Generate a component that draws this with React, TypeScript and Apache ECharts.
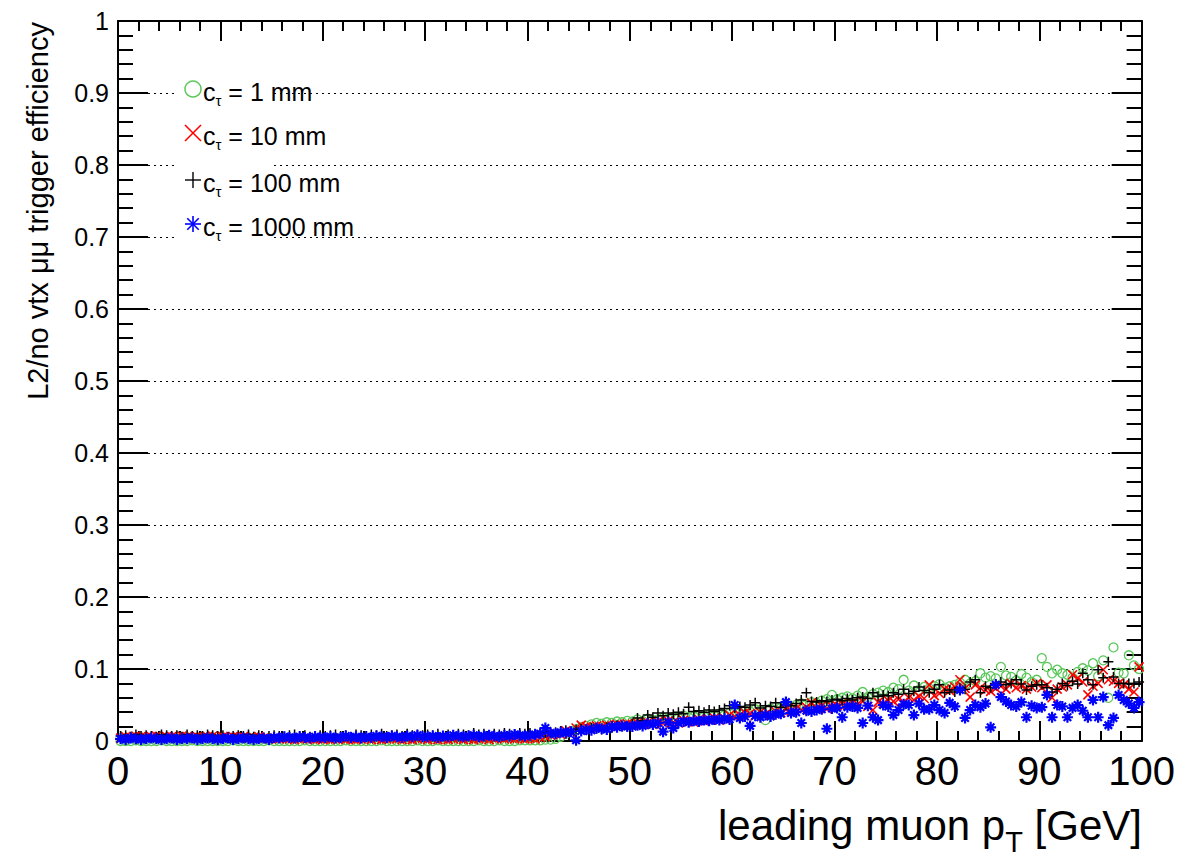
import React, { useEffect, useRef } from "react";
import * as echarts from "echarts";

// ---- data (efficiency per 0.5 GeV bin of leading muon pT, 0-100 GeV) ----
const binWidth = 0.5;

const ctau1mm = [
  0, 0, 0, 0.001, 0, 0, 0, 0, 0.001, 0, 0, 0, 0, 0, 0.001, 0, 0, 0, 0, 0,
  0, 0, 0.001, 0, 0, 0, 0, 0, 0, 0.001, 0, 0, 0, 0, 0, 0, 0.001, 0, 0, 0,
  0, 0, 0, 0, 0.001, 0, 0, 0, 0, 0, 0, 0.001, 0, 0, 0, 0, 0, 0, 0.001, 0,
  0, 0, 0.001, 0, 0, 0, 0, 0, 0, 0, 0.001, 0, 0, 0, 0.001, 0, 0, 0, 0.001, 0.001,
  0.001, 0.001, 0.001, 0.002, 0.002, 0.003, 0.006, 0.01, 0.013, 0.016, 0.019, 0.021, 0.023, 0.025, 0.024, 0.026, 0.025, 0.027, 0.026, 0.028,
  0.027, 0.03, 0.028, 0.031, 0.029, 0.03, 0.032, 0.031, 0.033, 0.032, 0.035, 0.033, 0.034, 0.036, 0.034, 0.037, 0.035, 0.038, 0.036, 0.039,
  0.04, 0.039, 0.042, 0.041, 0.044, 0.043, 0.029, 0.045, 0.047, 0.046, 0.049, 0.048, 0.05, 0.052, 0.051, 0.054, 0.053, 0.056, 0.058, 0.064,
  0.058, 0.06, 0.062, 0.059, 0.063, 0.068, 0.061, 0.065, 0.067, 0.07, 0.068, 0.074, 0.072, 0.085, 0.07, 0.077, 0.071, 0.075, 0.073, 0.076,
  0.079, 0.074, 0.076, 0.078, 0.081, 0.085, 0.08, 0.083, 0.094, 0.088, 0.09, 0.087, 0.103, 0.091, 0.089, 0.084, 0.093, 0.088, 0.082, 0.085,
  0.115, 0.103, 0.094, 0.099, 0.094, 0.092, 0.088, 0.096, 0.101, 0.098, 0.108, 0.09, 0.112, 0.06, 0.13, 0.095, 0.094, 0.119, 0.105, 0.1,
];

const ctau10mm = [
  0.004, 0.006, 0.005, 0.007, 0.006, 0.005, 0.006, 0.007, 0.005, 0.006, 0.006, 0.005, 0.007, 0.006, 0.005, 0.006, 0.005, 0.006, 0.007, 0.005,
  0.006, 0.005, 0.006, 0.005, 0.006, 0.004, 0.005, 0.006, 0.004, 0.003, 0.004, 0.003, 0.004, 0.003, 0.002, 0.003, 0.004, 0.003, 0.002, 0.003,
  0.003, 0.002, 0.003, 0.004, 0.002, 0.003, 0.002, 0.003, 0.004, 0.002, 0.003, 0.002, 0.003, 0.004, 0.003, 0.002, 0.003, 0.002, 0.003, 0.004,
  0.002, 0.003, 0.002, 0.003, 0.002, 0.003, 0.004, 0.002, 0.003, 0.002, 0.003, 0.004, 0.002, 0.003, 0.005, 0.003, 0.004, 0.003, 0.004, 0.003,
  0.004, 0.003, 0.005, 0.006, 0.008, 0.01, 0.009, 0.014, 0.012, 0.018, 0.022, 0.02, 0.019, 0.021, 0.02, 0.022, 0.021, 0.023, 0.022, 0.024,
  0.023, 0.025, 0.024, 0.026, 0.023, 0.027, 0.025, 0.028, 0.026, 0.025, 0.029, 0.027, 0.026, 0.03, 0.028, 0.03, 0.032, 0.029, 0.031, 0.036,
  0.034, 0.036, 0.039, 0.038, 0.035, 0.04, 0.037, 0.036, 0.041, 0.039, 0.044, 0.042, 0.045, 0.043, 0.047, 0.053, 0.046, 0.049, 0.045, 0.048,
  0.049, 0.052, 0.05, 0.053, 0.051, 0.055, 0.048, 0.043, 0.054, 0.052, 0.056, 0.055, 0.058, 0.054, 0.06, 0.057, 0.062, 0.059, 0.078, 0.063,
  0.066, 0.072, 0.07, 0.075, 0.085, 0.073, 0.061, 0.078, 0.074, 0.071, 0.069, 0.073, 0.076, 0.072, 0.08, 0.074, 0.077, 0.072, 0.075, 0.08,
  0.074, 0.078, 0.06, 0.072, 0.075, 0.078, 0.092, 0.087, 0.082, 0.064, 0.076, 0.08, 0.099, 0.085, 0.083, 0.08, 0.078, 0.072, 0.068, 0.103,
];

const ctau100mm = [
  0.007, 0.008, 0.006, 0.009, 0.007, 0.008, 0.007, 0.006, 0.009, 0.008, 0.007, 0.008, 0.006, 0.009, 0.007, 0.008, 0.007, 0.009, 0.008, 0.007,
  0.008, 0.006, 0.007, 0.008, 0.007, 0.009, 0.006, 0.008, 0.004, 0.007, 0.008, 0.007, 0.006, 0.008, 0.009, 0.007, 0.008, 0.006, 0.007, 0.008,
  0.007, 0.008, 0.009, 0.007, 0.008, 0.006, 0.009, 0.008, 0.007, 0.009, 0.008, 0.01, 0.007, 0.008, 0.009, 0.007, 0.01, 0.008, 0.009, 0.008,
  0.009, 0.008, 0.01, 0.007, 0.009, 0.008, 0.01, 0.009, 0.008, 0.011, 0.009, 0.01, 0.008, 0.01, 0.009, 0.011, 0.01, 0.009, 0.011, 0.01,
  0.011, 0.01, 0.012, 0.011, 0.013, 0.012, 0.014, 0.015, 0.013, 0.016, 0.017, 0.015, 0.018, 0.017, 0.016, 0.019, 0.018, 0.022, 0.02, 0.021,
  0.024, 0.032, 0.028, 0.036, 0.033, 0.039, 0.035, 0.039, 0.037, 0.04, 0.038, 0.047, 0.041, 0.042, 0.04, 0.043, 0.041, 0.043, 0.045, 0.049,
  0.046, 0.048, 0.047, 0.05, 0.053, 0.046, 0.049, 0.048, 0.053, 0.047, 0.05, 0.049, 0.052, 0.057, 0.067, 0.055, 0.054, 0.056, 0.055, 0.057,
  0.058, 0.056, 0.059, 0.057, 0.06, 0.061, 0.059, 0.067, 0.062, 0.064, 0.063, 0.067, 0.065, 0.072, 0.066, 0.069, 0.075, 0.07, 0.067, 0.072,
  0.078, 0.067, 0.071, 0.068, 0.074, 0.072, 0.082, 0.085, 0.067, 0.076, 0.074, 0.079, 0.082, 0.078, 0.08, 0.085, 0.079, 0.071, 0.076, 0.078,
  0.078, 0.074, 0.068, 0.072, 0.08, 0.077, 0.083, 0.079, 0.094, 0.085, 0.078, 0.099, 0.088, 0.11, 0.089, 0.08, 0.08, 0.08, 0.08, 0.082,
];

const ctau1000mm = [
  0.003, 0.002, 0.004, 0.003, 0.002, 0.003, 0.004, 0.003, 0.002, 0.003, 0.004, 0.002, 0.003, 0.003, 0.004, 0.002, 0.003, 0.004, 0.003, 0.002,
  0.003, 0.004, 0.002, 0.003, 0.004, 0.003, 0.002, 0.003, 0.004, 0.002, 0.005, 0.004, 0.006, 0.005, 0.004, 0.006, 0.005, 0.004, 0.006, 0.005,
  0.005, 0.006, 0.004, 0.005, 0.007, 0.005, 0.006, 0.004, 0.006, 0.005, 0.007, 0.006, 0.005, 0.007, 0.006, 0.005, 0.007, 0.006, 0.008, 0.006,
  0.006, 0.007, 0.005, 0.007, 0.006, 0.008, 0.007, 0.006, 0.007, 0.008, 0.006, 0.007, 0.008, 0.007, 0.006, 0.008, 0.007, 0.009, 0.008, 0.007,
  0.008, 0.009, 0.01, 0.018, 0.011, 0.01, 0.012, 0.011, 0.013, 0.001, 0.014, 0.016, 0.015, 0.018, 0.017, 0.016, 0.02, 0.019, 0.021, 0.02,
  0.02, 0.022, 0.021, 0.024, 0.023, 0.025, 0.013, 0.026, 0.018, 0.025, 0.027, 0.026, 0.028, 0.027, 0.029, 0.028, 0.03, 0.029, 0.031, 0.03,
  0.05, 0.032, 0.034, 0.021, 0.035, 0.033, 0.036, 0.034, 0.037, 0.038, 0.054, 0.039, 0.04, 0.025, 0.042, 0.041, 0.043, 0.044, 0.017, 0.045,
  0.046, 0.033, 0.047, 0.048, 0.046, 0.025, 0.049, 0.033, 0.029, 0.05, 0.048, 0.036, 0.043, 0.051, 0.05, 0.036, 0.052, 0.044, 0.044, 0.05,
  0.043, 0.039, 0.053, 0.048, 0.071, 0.032, 0.043, 0.05, 0.047, 0.052, 0.019, 0.078, 0.061, 0.055, 0.05, 0.048, 0.054, 0.033, 0.049, 0.046,
  0.047, 0.064, 0.033, 0.05, 0.048, 0.033, 0.046, 0.05, 0.042, 0.033, 0.057, 0.033, 0.061, 0.022, 0.032, 0.064, 0.057, 0.052, 0.046, 0.054,
];

const seriesNames = ["c_τ = 1 mm", "c_τ = 10 mm", "c_τ = 100 mm", "c_τ = 1000 mm"];
const legendValues = ["1 mm", "10 mm", "100 mm", "1000 mm"];
const xTitle = ["leading muon p", "T", " [GeV]"];
const yTitle = "L2/no vtx μμ trigger efficiency";

const FONT = '"Liberation Sans", Arial, Helvetica, sans-serif';
const GREEN = "#5cc85c";
const RED = "#ff0000";
const BLACK = "#000000";
const BLUE = "#0000ff";

const SYM_X = "path://M0,0L10,10M10,0L0,10";
const SYM_PLUS = "path://M5,0L5,10M0,5L10,5";
const SYM_STAR = "path://M5,0L5,10M0,5L10,5M1.6,1.6L8.4,8.4M8.4,1.6L1.6,8.4";

function toPoints(values: number[]) {
  return values.map((v, i) => [(i + 0.5) * binWidth, v]);
}

function measure(text: string, size: number) {
  const c = document.createElement("canvas");
  const ctx = c.getContext("2d")!;
  ctx.font = `${size}px "Liberation Sans", Arial, sans-serif`;
  return ctx.measureText(text).width;
}

export default function App() {
  const ref = useRef<HTMLDivElement>(null);

  useEffect(() => {
    if (!ref.current) return;
    const chart = echarts.init(ref.current, null, { renderer: "svg" });

    const W = 1178;
    const gridLeft = 118;
    const gridRight = 36;
    const gridTop = 21;
    const gridBottom = 118;
    const plotRight = W - gridRight;

    // ---- x-axis title with subscript ----
    const titleSize = 42;
    const subSize = 29;
    const wGeV = measure(xTitle[2], titleSize);
    const wT = measure(xTitle[1], subSize);
    const titleY = 825;

    // ---- legend ----
    const legX = 193;
    const legRows = [89, 133, 180, 224];
    const legTextX = 203;
    const legSize = 25;
    const legSub = 15;
    const wc = measure("c", legSize);
    const wtau = measure("τ", legSub);
    const markerR = 8;

    const legendMarkers: any[] = [];
    legendMarkers.push({
      type: "circle",
      shape: { cx: legX, cy: legRows[0], r: markerR },
      style: { fill: "none", stroke: GREEN, lineWidth: 1.5 },
      z: 20,
    });
    const line = (x1: number, y1: number, x2: number, y2: number, color: string, w: number) => ({
      type: "line",
      shape: { x1, y1, x2, y2 },
      style: { stroke: color, lineWidth: w },
      z: 20,
    });
    const r = markerR;
    legendMarkers.push(line(legX - r, legRows[1] - r, legX + r, legRows[1] + r, RED, 1.6));
    legendMarkers.push(line(legX - r, legRows[1] + r, legX + r, legRows[1] - r, RED, 1.6));
    legendMarkers.push(line(legX - r, legRows[2], legX + r, legRows[2], BLACK, 1.4));
    legendMarkers.push(line(legX, legRows[2] - r, legX, legRows[2] + r, BLACK, 1.4));
    const d = r * 0.72;
    legendMarkers.push(line(legX - r, legRows[3], legX + r, legRows[3], BLUE, 1.6));
    legendMarkers.push(line(legX, legRows[3] - r, legX, legRows[3] + r, BLUE, 1.6));
    legendMarkers.push(line(legX - d, legRows[3] - d, legX + d, legRows[3] + d, BLUE, 1.6));
    legendMarkers.push(line(legX - d, legRows[3] + d, legX + d, legRows[3] - d, BLUE, 1.6));

    const legendTexts: any[] = [];
    legendValues.forEach((v, k) => {
      const y = legRows[k] + 3;
      legendTexts.push({
        type: "text", x: legTextX, y, z: 20,
        style: { text: "c", fontSize: legSize, fontFamily: FONT, fill: "#000", verticalAlign: "middle", align: "left" },
      });
      legendTexts.push({
        type: "text", x: legTextX + wc, y: y + 8, z: 20,
        style: { text: "τ", fontSize: legSub, fontFamily: FONT, fill: "#000", verticalAlign: "middle", align: "left" },
      });
      legendTexts.push({
        type: "text", x: legTextX + wc + wtau, y, z: 20,
        style: { text: " = " + v, fontSize: legSize, fontFamily: FONT, fill: "#000", verticalAlign: "middle", align: "left" },
      });
    });

    const tickLine = { color: "#000", width: 2 };

    const axisX = (position: string, labels: boolean) => ({
      type: "value",
      min: 0,
      max: 100,
      interval: 10,
      position,
      axisLine: { show: true, onZero: false, lineStyle: { color: "#000", width: 2 } },
      axisTick: { show: true, inside: true, length: 20, lineStyle: tickLine },
      minorTick: { show: true, splitNumber: 5, length: 10, lineStyle: tickLine },
      axisLabel: labels
        ? { show: true, fontSize: 40, color: "#000", fontFamily: FONT, margin: 10 }
        : { show: false },
      splitLine: { show: false },
      minorSplitLine: { show: false },
    });
    const axisY = (position: string, labels: boolean, grid: boolean) => ({
      type: "value",
      min: 0,
      max: 1,
      interval: 0.1,
      position,
      axisLine: { show: true, onZero: false, lineStyle: { color: "#000", width: 2 } },
      axisTick: { show: true, inside: true, length: 30, lineStyle: tickLine },
      minorTick: { show: true, splitNumber: 5, length: 15, lineStyle: tickLine },
      axisLabel: labels
        ? {
            show: true,
            fontSize: 25,
            color: "#000",
            fontFamily: FONT,
            margin: 9,
            formatter: (v: number) => (v === 0 ? "0" : v === 1 ? "1" : String(Math.round(v * 10) / 10)),
          }
        : { show: false },
      splitLine: grid
        ? { show: true, lineStyle: { color: "#000", width: 1, type: [2, 4] } }
        : { show: false },
      minorSplitLine: { show: false },
    });

    const mk = (name: string, values: number[], symbol: string, size: number, color: string, bw: number) => ({
      type: "scatter",
      name,
      data: toPoints(values),
      symbol,
      symbolSize: size,
      xAxisIndex: 0,
      yAxisIndex: 0,
      itemStyle: {
        color: "rgba(0,0,0,0)",
        borderColor: color,
        borderWidth: bw,
        opacity: 1,
      },
      emphasis: { disabled: true },
      z: 3,
    });

    const option: any = {
      animation: false,
      grid: { left: gridLeft, right: gridRight, top: gridTop, bottom: gridBottom, containLabel: false },
      xAxis: [axisX("bottom", true), axisX("top", false)],
      yAxis: [axisY("left", true, true), axisY("right", false, false)],
      series: [
        mk(seriesNames[0], ctau1mm, "circle", 9, GREEN, 1.3),
        mk(seriesNames[1], ctau10mm, SYM_X, 9, RED, 1.6),
        mk(seriesNames[2], ctau100mm, SYM_PLUS, 10, BLACK, 1.5),
        mk(seriesNames[3], ctau1000mm, SYM_STAR, 11, BLUE, 2.2),
      ],
      graphic: [
        {
          type: "rect",
          shape: { x: 176, y: 72, width: 97, height: 172 },
          style: { fill: "#fff" },
          z: 10,
        },
        ...legendMarkers,
        ...legendTexts,
        {
          type: "text", x: plotRight, y: titleY, z: 20,
          style: { text: xTitle[2], fontSize: titleSize, fontFamily: FONT, fill: "#000", align: "right", verticalAlign: "middle" },
        },
        {
          type: "text", x: plotRight - wGeV, y: titleY + 17, z: 20,
          style: { text: xTitle[1], fontSize: subSize, fontFamily: FONT, fill: "#000", align: "right", verticalAlign: "middle" },
        },
        {
          type: "text", x: plotRight - wGeV - wT, y: titleY, z: 20,
          style: { text: xTitle[0], fontSize: titleSize, fontFamily: FONT, fill: "#000", align: "right", verticalAlign: "middle" },
        },
        {
          type: "text", x: 38, y: 22, rotation: Math.PI / 2, z: 20,
          style: { text: yTitle, fontSize: 29, fontFamily: FONT, fill: "#000", align: "right", verticalAlign: "middle" },
        },
      ],
    };

    chart.setOption(option);
    return () => chart.dispose();
  }, []);

  return (
    <div
      ref={ref}
      style={{ position: "absolute", left: 0, top: 0, width: 1178, height: 859, background: "#fff" }}
    />
  );
}
